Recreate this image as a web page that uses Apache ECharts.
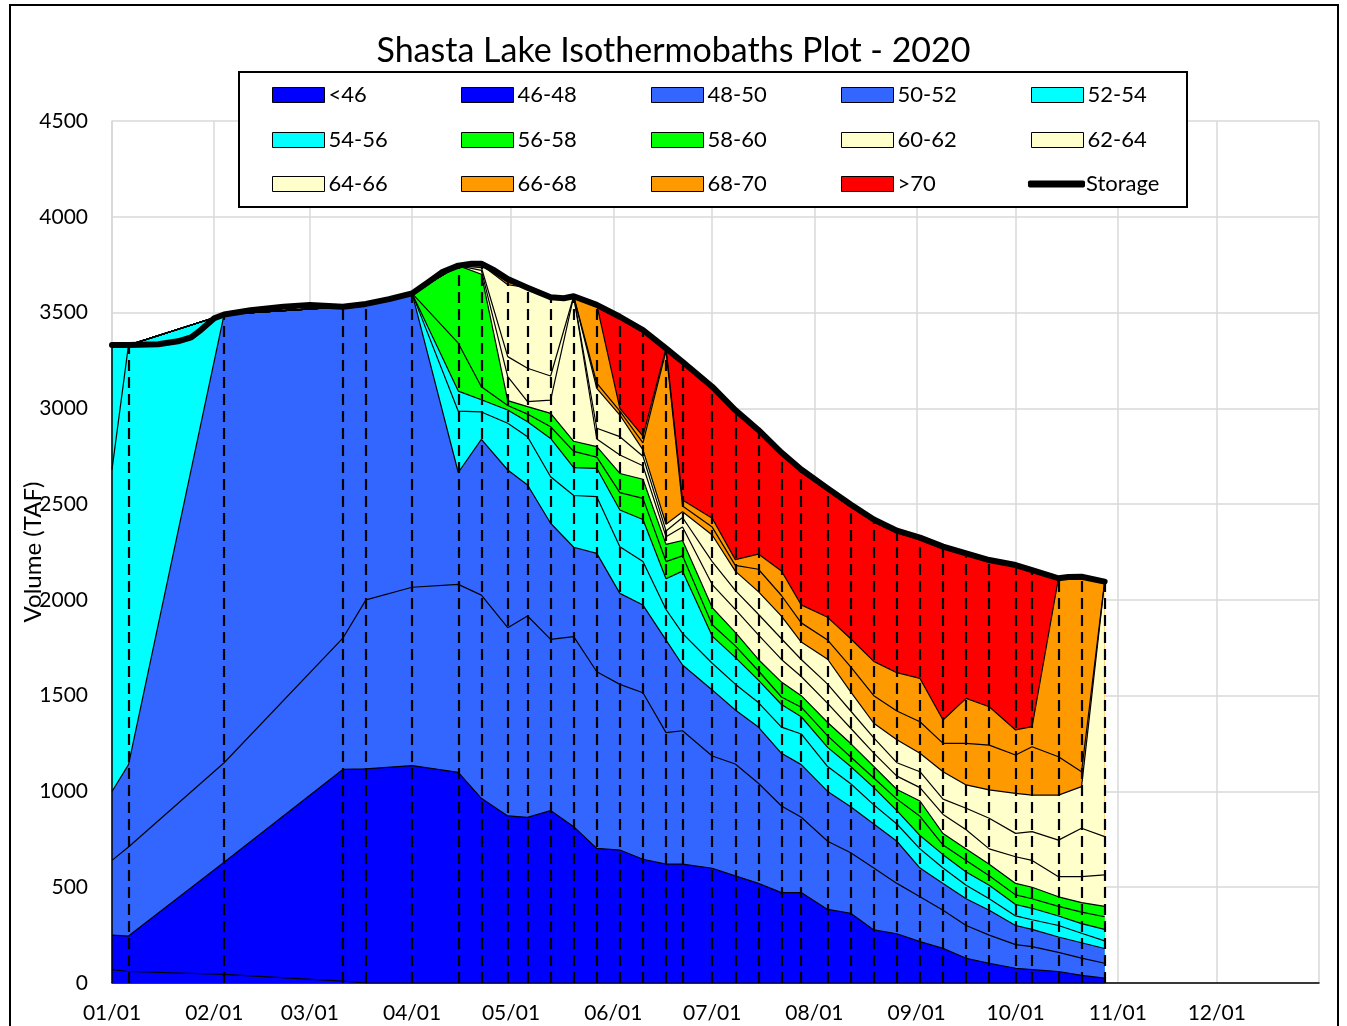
<!DOCTYPE html>
<html><head><meta charset="utf-8">
<script src="https://cdn.jsdelivr.net/npm/echarts@6/dist/echarts.min.js"></script>
<style>html,body{margin:0;padding:0;background:#fff}#c{width:1347px;height:1026px}</style>
</head><body><div id="c"></div>
<script>
// Profile (measurement) dates
const profileDates = ['2020-01-01','2020-01-06','2020-02-04','2020-03-11','2020-03-18','2020-04-01','2020-04-15','2020-04-22','2020-04-30','2020-05-06','2020-05-13','2020-05-20','2020-05-27','2020-06-03','2020-06-10','2020-06-17','2020-06-22','2020-07-01','2020-07-08','2020-07-15','2020-07-22','2020-07-28','2020-08-05','2020-08-12','2020-08-19','2020-08-26','2020-09-02','2020-09-09','2020-09-16','2020-09-23','2020-10-01','2020-10-06','2020-10-14','2020-10-21','2020-10-28'];
// Volume (TAF) of water colder than each isotherm, per profile date
const below46 = [70,60,45,10,0,0,0,0,0,0,0,0,0,0,0,0,0,0,0,0,0,0,0,0,0,0,0,0,0,0,0,0,0,0,0];
const below48 = [250,245,630,1115,1118,1135,1100,964,872,865,900,816,703,694,646,621,621,599,559,520,472,472,384,364,277,257,216,181,129,103,77,70,60,40,25];
const below50 = [640,710,1150,1800,2000,2066,2081,2025,1855,1916,1794,1808,1625,1559,1515,1307,1317,1185,1143,1043,924,865,740,680,600,520,450,380,300,250,200,190,160,130,103];
const below52 = [1000,1140,3490,3530,3545,3600,2665,2838,2678,2600,2400,2275,2243,2034,1973,1790,1660,1530,1425,1336,1199,1140,1000,920,830,740,600,520,440,380,300,280,240,210,180];
const below54 = [2680,3330,3490,3530,3545,3600,2985,2981,2922,2852,2643,2545,2539,2278,2200,1950,1825,1669,1560,1464,1336,1300,1130,1040,930,830,700,600,510,440,350,330,300,260,220];
const below56 = [3330,3330,3490,3530,3545,3600,3090,3045,2991,2930,2843,2690,2687,2469,2420,2110,2150,1811,1700,1581,1454,1390,1230,1130,1020,900,770,670,580,510,410,390,350,310,280];
const below58 = [3330,3330,3490,3530,3545,3600,3340,3113,3015,2970,2904,2775,2745,2560,2530,2200,2230,1870,1760,1630,1493,1440,1290,1180,1070,960,870,720,640,560,460,440,400,370,346];
const below60 = [3330,3330,3490,3530,3545,3600,3745,3700,3040,3009,2974,2828,2800,2660,2630,2290,2310,1960,1830,1689,1571,1500,1360,1250,1130,1010,950,780,700,620,520,500,450,420,400];
const below62 = [3330,3330,3490,3530,3545,3600,3745,3720,3165,3035,3043,3585,2840,2756,2700,2330,2380,2080,1950,1817,1689,1600,1460,1330,1200,1080,1020,880,800,700,659,640,555,555,564];
const below64 = [3330,3330,3490,3530,3545,3600,3745,3735,3270,3209,3169,3585,2896,2852,2750,2360,2430,2200,2050,1925,1797,1689,1560,1420,1280,1150,1103,960,912,860,781,790,746,808,764];
const below66 = [3330,3330,3490,3530,3545,3600,3745,3750,3645,3630,3580,3585,3104,2965,2783,2395,2460,2339,2150,2043,1915,1780,1690,1520,1356,1270,1199,1103,1034,1008,990,981,981,1025,2095];
const below68 = [3330,3330,3490,3530,3545,3600,3745,3750,3658,3630,3580,3585,3131,2985,2820,3300,2490,2380,2180,2160,2023,1880,1790,1650,1500,1420,1364,1251,1251,1242,1190,1233,1181,1103,2095];
const below70 = [3330,3330,3490,3530,3545,3600,3745,3750,3668,3630,3580,3585,3540,3000,2855,3313,2521,2426,2210,2239,2151,1974,1909,1797,1679,1620,1590,1373,1486,1442,1321,1338,2113,2121,2095];
const lakeTop = [3330,3330,3490,3530,3545,3600,3745,3755,3675,3630,3580,3585,3540,3478,3409,3313,3243,3113,2991,2887,2769,2681,2582,2498,2420,2361,2325,2278,2243,2208,2182,2156,2113,2121,2095];
// Daily-ish storage curve
const storageDates = ['2020-01-01','2020-01-06','2020-01-15','2020-01-21','2020-01-25','2020-01-28','2020-02-01','2020-02-04','2020-02-12','2020-02-22','2020-03-01','2020-03-11','2020-03-18','2020-03-25','2020-04-01','2020-04-06','2020-04-10','2020-04-15','2020-04-19','2020-04-22','2020-04-26','2020-04-30','2020-05-06','2020-05-13','2020-05-17','2020-05-20','2020-05-27','2020-06-03','2020-06-10','2020-06-17','2020-06-22','2020-07-01','2020-07-08','2020-07-15','2020-07-22','2020-07-28','2020-08-05','2020-08-12','2020-08-19','2020-08-26','2020-09-02','2020-09-09','2020-09-16','2020-09-23','2020-10-01','2020-10-06','2020-10-14','2020-10-17','2020-10-21','2020-10-28'];
const storageValues = [3330,3330,3335,3350,3370,3410,3470,3490,3512,3530,3540,3530,3545,3570,3600,3660,3710,3745,3755,3755,3720,3675,3630,3580,3575,3585,3540,3478,3409,3313,3243,3113,2991,2887,2769,2681,2582,2498,2420,2361,2325,2278,2243,2208,2182,2156,2113,2120,2121,2095];

const bandNames = ['<46','46-48','48-50','50-52','52-54','54-56','56-58','58-60','60-62','62-64','64-66','66-68','68-70','>70'];
const bandColors = ['#0000FF','#0000FF','#3366FF','#3366FF','#00FFFF','#00FFFF','#00FF00','#00FF00','#FFFFCC','#FFFFCC','#FFFFCC','#FF9900','#FF9900','#FF0000'];
const bandTops = [below46,below48,below50,below52,below54,below56,below58,below60,below62,below64,below66,below68,below70,lakeTop];

const T = s => { const p = s.split('-').map(Number); return new Date(p[0], p[1]-1, p[2]).getTime(); };
const FONT = 'Lato';

const series = [];
for (let i = bandNames.length - 1; i >= 0; i--) {
  series.push({
    type: 'line', name: bandNames[i], silent: true, animation: false,
    data: profileDates.map((d, k) => [T(d), bandTops[i][k]]),
    symbol: 'none', z: 2,
    lineStyle: { color: '#000', width: i === bandNames.length - 1 ? 0 : 1.2 },
    itemStyle: { color: bandColors[i] },
    areaStyle: { color: bandColors[i], opacity: 1 }
  });
}
// dashed profile lines
const ml = profileDates.map((d, k) => {
  const item = [{ coord: [T(d), 0] }, { coord: [T(d), lakeTop[k]] }];
  if (k === 0) item[0].lineStyle = { type: 'solid', width: 1.5, color: '#000' };
  return item;
});
series.push({
  type: 'line', name: 'profiles', silent: true, animation: false, z: 3,
  data: profileDates.map(d => [T(d), 0]), symbol: 'none', lineStyle: { width: 0 },
  markLine: { silent: true, animation: false, symbol: ['none', 'none'], label: { show: false },
    lineStyle: { type: [11, 6], color: '#000', width: 2.2 }, data: ml }
});
series.push({
  type: 'line', name: 'Storage', silent: true, animation: false, z: 4,
  data: storageDates.map((d, k) => [T(d), storageValues[k]]), symbol: 'none',
  lineStyle: { color: '#000', width: 6, cap: 'round', join: 'round' },
  itemStyle: { color: '#000' }
});

const legendNames = bandNames.concat(['Storage']);
const colX = [272, 461, 651, 841, 1031];
const rowY = [84, 129, 173];
const legends = legendNames.map((n, j) => {
  const isS = n === 'Storage';
  return {
    show: true, z: 10, selectedMode: false, padding: 0, itemGap: 0,
    left: isS ? 1028 : colX[j % 5], top: rowY[Math.floor(j / 5)],
    itemWidth: isS ? 57 : 52, itemHeight: isS ? 7 : 15,
    textStyle: { fontFamily: FONT, fontSize: 22, color: '#000', padding: [0, 0, 0, isS ? -4 : -1] },
    data: [isS ? { name: n, icon: 'roundRect', itemStyle: { color: '#000', borderWidth: 0 } }
               : { name: n, icon: 'rect', itemStyle: { color: bandColors[j], borderColor: '#000', borderWidth: 1 } }]
  };
});

const chart = echarts.init(document.getElementById('c'), null, { renderer: 'canvas' });
chart.setOption({
  animation: false,
  backgroundColor: '#fff',
  title: { text: 'Shasta Lake Isothermobaths Plot - 2020', left: 'center', top: 29,
    textStyle: { fontFamily: FONT, fontSize: 34, fontWeight: 'normal', color: '#000' } },
  legend: legends,
  graphic: [
    { type: 'rect', z: 0, shape: { x: 10, y: 5, width: 1328, height: 1040 }, style: { fill: null, stroke: '#000', lineWidth: 2 } },
    { type: 'rect', z: 6, shape: { x: 239, y: 72, width: 948, height: 135 }, style: { fill: '#fff', stroke: '#000', lineWidth: 2 } }
  ],
  grid: { left: 112, right: 28, top: 121, bottom: 43, containLabel: false, outerBoundsMode: 'none' },
  xAxis: {
    type: 'time', min: T('2020-01-01'), max: T('2021-01-01'), splitNumber: 12,
    minInterval: 28 * 864e5, maxInterval: 31 * 864e5,
    axisLine: { show: true, lineStyle: { color: '#000', width: 1.5 } },
    axisTick: { show: false },
    splitLine: { show: true, lineStyle: { color: '#D9D9D9', width: 1.5 } },
    axisLabel: { fontFamily: FONT, fontSize: 21, color: '#000', margin: 20, hideOverlap: false,
      formatter: v => { const d = new Date(v); if (d.getFullYear() > 2020) return ''; return String(d.getMonth() + 1).padStart(2, '0') + '/' + String(d.getDate()).padStart(2, '0'); } }
  },
  yAxis: {
    type: 'value', min: 0, max: 4500, interval: 500,
    name: 'Volume (TAF)', nameLocation: 'middle', nameGap: 67, nameMoveOverlap: false,
    nameTextStyle: { fontFamily: FONT, fontSize: 24, color: '#000' },
    axisLine: { show: true, lineStyle: { color: '#D9D9D9', width: 1.5 } },
    axisTick: { show: false },
    splitLine: { show: true, lineStyle: { color: '#D9D9D9', width: 1.5 } },
    axisLabel: { fontFamily: FONT, fontSize: 21, color: '#000', margin: 24, formatter: v => String(v) }
  },
  series: series
});
</script></body></html>
